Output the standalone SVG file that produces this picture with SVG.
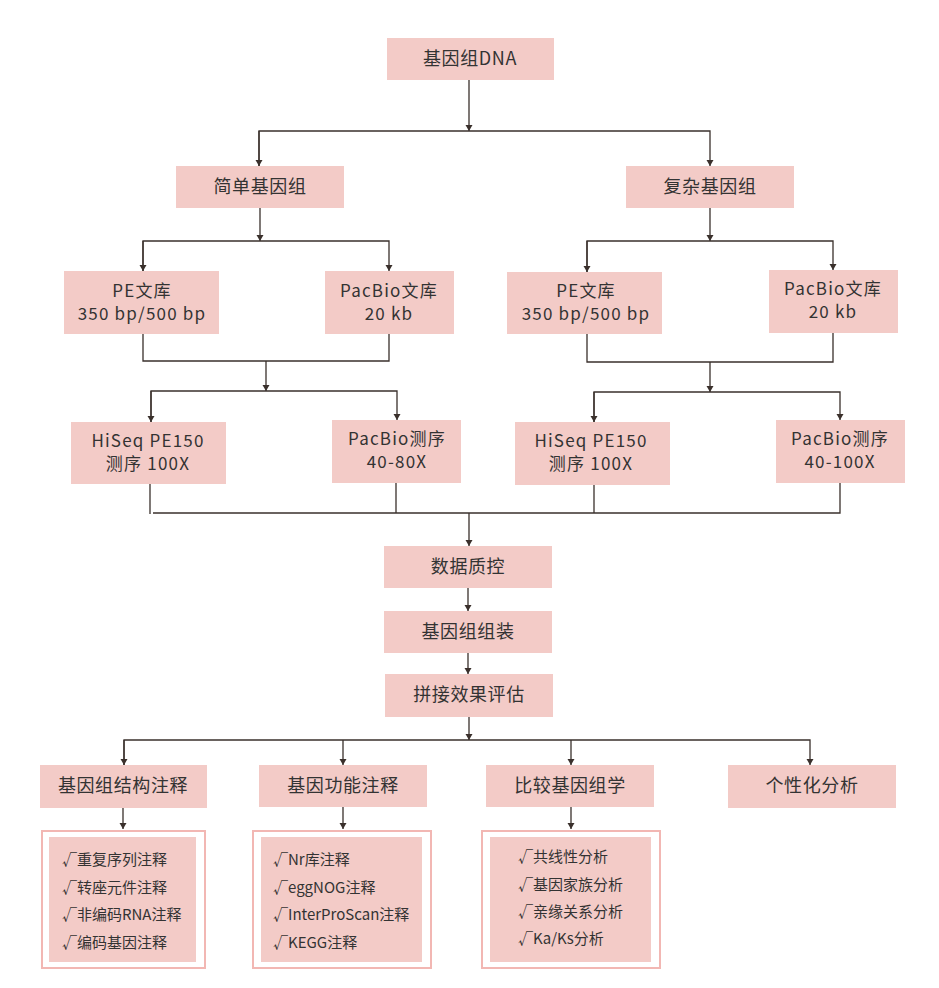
<svg xmlns="http://www.w3.org/2000/svg" width="939" height="988" viewBox="0 0 939 988">
<style>
.n{fill:#f3cbc7}
.o{fill:none;stroke:#f2b7b3;stroke-width:2}
.t{font-family:"Noto Sans CJK SC","Noto Sans",sans-serif;font-size:18px;fill:#333;text-anchor:middle;letter-spacing:0.6px}
.t2{font-family:"Noto Sans CJK SC","Noto Sans",sans-serif;font-size:17px;fill:#333;text-anchor:middle;letter-spacing:1.2px}
.l{font-family:"Noto Sans CJK SC","Noto Sans",sans-serif;font-size:15px;fill:#333}
.c{fill:none;stroke:#3a302c;stroke-width:1.3}
</style>
<defs>
<marker id="d" markerWidth="8" markerHeight="8" refX="4" refY="7" markerUnits="userSpaceOnUse" viewBox="0 0 8 8">
<path d="M0.5,1 L7.5,1 L4,7 Z" fill="#3a302c"/>
</marker>
</defs>
<g id="connectors" class="c">
<path d="M469,80 V131" marker-end="url(#d)"/>
<path d="M259,166 V131 H710 V166" marker-end="url(#d)"/>
<path d="M259,131 V166" marker-end="url(#d)"/>
<path d="M260,208 V241" marker-end="url(#d)"/>
<path d="M143,271 V241 H389 V271" marker-end="url(#d)"/>
<path d="M143,241 V271" marker-end="url(#d)"/>
<path d="M710,208 V241" marker-end="url(#d)"/>
<path d="M587,272 V241 H833 V270" marker-end="url(#d)"/>
<path d="M587,241 V272" marker-end="url(#d)"/>
<path d="M143,334 V361 H389 V334"/>
<path d="M266,361 V391" marker-end="url(#d)"/>
<path d="M151,422 V391 H397 V420" marker-end="url(#d)"/>
<path d="M151,391 V422" marker-end="url(#d)"/>
<path d="M587,334 V362 H833 V333"/>
<path d="M710,362 V392" marker-end="url(#d)"/>
<path d="M594,422 V392 H840 V420" marker-end="url(#d)"/>
<path d="M594,392 V422" marker-end="url(#d)"/>
<path d="M150,484 V514"/>
<path d="M153,513 H840 V483"/>
<path d="M396,483 V513"/>
<path d="M594,485 V513"/>
<path d="M469,513 V546" marker-end="url(#d)"/>
<path d="M468,588 V611" marker-end="url(#d)"/>
<path d="M468,653 V674" marker-end="url(#d)"/>
<path d="M469,717 V740" marker-end="url(#d)"/>
<path d="M124,765 V740 H810 V765" marker-end="url(#d)"/>
<path d="M124,740 V765" marker-end="url(#d)"/>
<path d="M343,740 V765" marker-end="url(#d)"/>
<path d="M571,740 V765" marker-end="url(#d)"/>
<path d="M123,808 V829" marker-end="url(#d)"/>
<path d="M343,807 V829" marker-end="url(#d)"/>
<path d="M571,807 V829" marker-end="url(#d)"/>
</g>
<g id="n-dna"><rect class="n" x="387" y="38" width="167" height="42"/><text class="t" x="470" y="65">基因组DNA</text></g>
<g id="n-simple"><rect class="n" x="176" y="166" width="168" height="42"/><text class="t" x="260" y="193">简单基因组</text></g>
<g id="n-complex"><rect class="n" x="626" y="166" width="168" height="42"/><text class="t" x="710" y="193">复杂基因组</text></g>
<g id="n-pe-l"><rect class="n" x="64" y="271" width="155" height="63"/><text class="t2" x="142" y="297">PE文库</text><text class="t2" x="142" y="320">350 bp/500 bp</text></g>
<g id="n-pblib-l"><rect class="n" x="325" y="271" width="129" height="63"/><text class="t2" x="389" y="297">PacBio文库</text><text class="t2" x="389" y="320">20 kb</text></g>
<g id="n-pe-r"><rect class="n" x="507" y="272" width="155" height="62"/><text class="t2" x="586" y="297">PE文库</text><text class="t2" x="586" y="320">350 bp/500 bp</text></g>
<g id="n-pblib-r"><rect class="n" x="769" y="270" width="129" height="63"/><text class="t2" x="833" y="295">PacBio文库</text><text class="t2" x="833" y="318">20 kb</text></g>
<g id="n-hiseq-l"><rect class="n" x="71" y="422" width="155" height="62"/><text class="t2" x="148" y="447">HiSeq PE150</text><text class="t2" x="148" y="470">测序 100X</text></g>
<g id="n-pbseq-l"><rect class="n" x="332" y="420" width="129" height="63"/><text class="t2" x="397" y="445">PacBio测序</text><text class="t2" x="397" y="468">40-80X</text></g>
<g id="n-hiseq-r"><rect class="n" x="515" y="422" width="155" height="63"/><text class="t2" x="591" y="447">HiSeq PE150</text><text class="t2" x="591" y="470">测序 100X</text></g>
<g id="n-pbseq-r"><rect class="n" x="776" y="420" width="129" height="63"/><text class="t2" x="840" y="445">PacBio测序</text><text class="t2" x="840" y="468">40-100X</text></g>
<g id="n-qc"><rect class="n" x="384" y="546" width="168" height="42"/><text class="t" x="468" y="573">数据质控</text></g>
<g id="n-asm"><rect class="n" x="384" y="611" width="168" height="42"/><text class="t" x="468" y="638">基因组组装</text></g>
<g id="n-eval"><rect class="n" x="385" y="674" width="168" height="43"/><text class="t" x="469" y="701">拼接效果评估</text></g>
<g id="n-struct"><rect class="n" x="40" y="765" width="167" height="43"/><text class="t" x="123" y="792">基因组结构注释</text></g>
<g id="n-func"><rect class="n" x="259" y="765" width="168" height="42"/><text class="t" x="343" y="792">基因功能注释</text></g>
<g id="n-comp"><rect class="n" x="486" y="765" width="168" height="42"/><text class="t" x="570" y="792">比较基因组学</text></g>
<g id="n-pers"><rect class="n" x="728" y="765" width="168" height="43"/><text class="t" x="812" y="792">个性化分析</text></g>
<g id="n-list1"><rect class="o" x="42" y="831" width="163" height="137"/><rect class="n" x="49" y="837" width="147" height="125"/>
<text class="l" x="62" y="865">√重复序列注释</text><text class="l" x="62" y="893">√转座元件注释</text><text class="l" x="62" y="920">√非编码RNA注释</text><text class="l" x="62" y="948">√编码基因注释</text></g>
<g id="n-list2"><rect class="o" x="253" y="831" width="178" height="137"/><rect class="n" x="261" y="837" width="161" height="125"/>
<text class="l" x="273" y="865">√Nr库注释</text><text class="l" x="273" y="893">√eggNOG注释</text><text class="l" x="273" y="920">√InterProScan注释</text><text class="l" x="273" y="948">√KEGG注释</text></g>
<g id="n-list3"><rect class="o" x="482" y="831" width="178" height="137"/><rect class="n" x="490" y="837" width="161" height="125"/>
<text class="l" x="518" y="862">√共线性分析</text><text class="l" x="518" y="890">√基因家族分析</text><text class="l" x="518" y="917">√亲缘关系分析</text><text class="l" x="518" y="944">√Ka/Ks分析</text></g>
</svg>
